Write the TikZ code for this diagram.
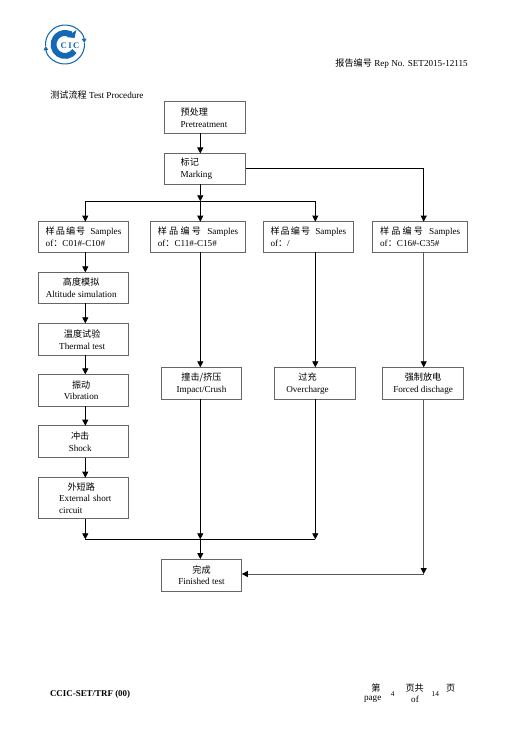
\documentclass[tikz,border=0pt]{standalone}
\usepackage{fontspec}
\setmainfont{Liberation Serif}
\newfontfamily\cjk{Noto Sans CJK SC}
\newcommand{\zh}[1]{{\cjk #1}}
\newcommand{\samplehead}[1]{\zh{样}\hfill\zh{品}\hfill\zh{编}\hfill\zh{号}\hfill\hspace{3pt}Samples\\of\zh{：}#1}
\newcommand{\stagetext}[3][0pt]{\zh{#2}\hspace*{#1}\\#3\hspace*{#1}}
\usetikzlibrary{positioning, arrows.meta, calc}
\definecolor{logoblue}{RGB}{20,105,180}

\begin{document}
\begin{tikzpicture}[
    x=0.75pt,
    y=-0.75pt,
    >={Triangle[length=4.5pt,width=4.5pt]},
    font=\fontsize{6.85}{8.8}\selectfont,
    line/.style={
        line width=0.6pt
    },
    arrow/.style={
        ->,
        line width=0.6pt
    },
    fararrow/.style={
        arrow,
        draw=black!65,
        fill=black!65,
        -{Triangle[length=4.5pt,width=4.5pt,black]}
    },
    stage/.style={
        rectangle,
        draw=black!60,
        line width=0.55pt,
        outer sep=0pt,
        inner xsep=0pt,
        inner ysep=0pt,
        minimum width=60.5pt,
        minimum height=24pt,
        align=center
    },
    start/.style={
        stage,
        inner xsep=12pt,
        text width=36.5pt,
        align=left
    },
    sample/.style={
        stage,
        inner xsep=5.6pt,
        minimum height=23pt,
        align=left
    },
    column/.style={
        stage,
        minimum width=68pt
    },
    plain/.style={
        inner sep=0pt,
        outer sep=0pt
    }
]
    \useasboundingbox (0,0) rectangle (529,748);

    % Logo
    \coordinate (logoc) at (65,44.5);
    \draw[logoblue, line width=0.8pt, ->, >={Triangle[length=3pt,width=3.5pt]}] ([shift={(-185:19.5)}]logoc) arc[start angle=-185, end angle=-5, radius=19.5];
    \draw[logoblue, line width=0.8pt, ->, >={Triangle[length=3pt,width=3.5pt]}] ([shift={(-5:19.5)}]logoc) arc[start angle=-5, end angle=175, radius=19.5];
    \draw[logoblue, line width=4.4pt, ->, >={Triangle[length=4pt,width=9pt]}] ([shift={(-325:11.5)}]logoc) arc[start angle=-325, end angle=-35, radius=11.5];
    \node[plain, text=logoblue, font=\fontsize{6.5}{6}\selectfont\bfseries] (logotext) at (70,45.7) {C\hspace{1pt}I\hspace{1pt}C};

    % Page heads
    \node[plain, anchor=west] (title) at (50.3,95) {\zh{测试流程} Test Procedure};
    \node[plain, anchor=east] (report) at (467.8,63.7) {\zh{报告编号} Rep No. SET2015-12115};

    % Top boxes
    \node[start, minimum width=60.75pt] (pre) at (205,117.5) {\zh{预处理}\\Pretreatment};
    \node[start, minimum width=60.75pt, minimum height=23.25pt, below=15pt of pre] (mark) {\zh{标记}\\Marking};

    % Sample row
    \node[sample, text width=56.7pt, minimum width=67.9pt] (sampleA) at (83.5,237) {\samplehead{C01\#-C10\#}};
    \node[sample, text width=60.3pt, minimum width=71.5pt, right=16.2pt of sampleA] (sampleB) {\samplehead{C11\#-C15\#}};
    \node[sample, text width=56.8pt, minimum width=68pt, right=13pt of sampleB] (sampleC) {\samplehead{/}};
    \node[sample, text width=60pt, minimum width=71.2pt, right=14.25pt of sampleC] (sampleD) {\samplehead{C16\#-C35\#}};

    % Left column
    \node[column, minimum height=23.25pt, below=15pt of sampleA] (altitude) {\stagetext[3.5pt]{高度模拟}{Altitude simulation}};
    \node[column, below=15pt of altitude] (thermal) {\stagetext[2pt]{温度试验}{Thermal test}};
    \node[column, below=14.25pt of thermal] (vibration) {\stagetext[3.5pt]{振动}{Vibration}};
    \node[column, below=14.5pt of vibration] (shock) {\stagetext[5pt]{冲击}{Shock}};
    \node[column, minimum height=30.75pt, text width=67.9pt, align=left, below=15pt of shock] (external) {\hspace*{22pt}\zh{外短路}\\\hspace*{15.7pt}External short\\\hspace*{15.7pt}circuit};

    % Tests in the other columns
    \node[stage] (impact) at (201.5,383.3) {\zh{撞击/挤压}\\Impact/Crush};
    \node[stage, right=24.5pt of impact] (overcharge) {\stagetext[11pt]{过充}{Overcharge}};
    \node[stage, right=20.7pt of overcharge] (forced) {\zh{强制放电}\\Forced dischage};
    \node[stage, below=119.8pt of impact] (done) {\zh{完成}\\Finished test};

    % Lines
    \coordinate (busleft) at (85.3,201.3);
    \coordinate (busmid) at (200.3,201.3);
    \coordinate (busright) at (315.3,201.3);
    \coordinate (lowleft) at (85.3,539.3);
    \coordinate (lowmid) at (200.3,539.3);
    \coordinate (lowright) at (315.3,539.3);
    \coordinate (farline) at (423.7,574);

    \draw[arrow] (busmid |- pre.south) -- (busmid |- mark.north);
    \draw[arrow] (busmid |- mark.south) -- (busmid);
    \draw[line] (busleft) -- (busright);
    \draw[arrow] (busleft) -- (busleft |- sampleA.north);
    \draw[arrow] (busmid) -- (busmid |- sampleB.north);
    \draw[arrow] (busright) -- (busright |- sampleC.north);
    \draw[arrow] (mark.east |- 0,168.3) -| (farline |- sampleD.north);

    % Left column arrows
    \draw[arrow] (busleft |- sampleA.south) -- (busleft |- altitude.north);
    \draw[arrow] (busleft |- altitude.south) -- (busleft |- thermal.north);
    \draw[arrow] (busleft |- thermal.south) -- (busleft |- vibration.north);
    \draw[arrow] (busleft |- vibration.south) -- (busleft |- shock.north);
    \draw[arrow] (busleft |- shock.south) -- (busleft |- external.north);
    \draw[arrow] (busleft |- external.south) -- (lowleft);

    % Other columns
    \draw[arrow] (busmid |- sampleB.south) -- (busmid |- impact.north);
    \draw[arrow] (busright |- sampleC.south) -- (busright |- overcharge.north);
    \draw[fararrow] (farline |- sampleD.south) -- (farline |- forced.north);
    \draw[arrow] (busmid |- impact.south) -- (lowmid);
    \draw[arrow] (busright |- overcharge.south) -- (lowright);
    \draw[line] (lowleft) -- (lowright);
    \draw[arrow] (lowmid) -- (lowmid |- done.north);
    \draw[fararrow] (farline |- forced.south) -- (farline);
    \draw[fararrow] (farline) -- (done.east |- farline);

    % Footer
    \node[plain, anchor=west, font=\fontsize{6.7}{8}\selectfont\bfseries] (form) at (50,694) {CCIC-SET/TRF (00)};
    \node[plain] (pagezh) at (376,688) {\zh{第}};
    \node[plain] (pageen) at (372.7,699.3) {page};
    \node[plain, font=\fontsize{5.5}{6}\selectfont] (pagenum) at (392.7,694) {4};
    \node[plain] (ofzh) at (414.7,688) {\zh{页共}};
    \node[plain] (ofen) at (415,699.3) {of};
    \node[plain, font=\fontsize{5.5}{6}\selectfont] (total) at (435.3,694) {14};
    \node[plain] (lastzh) at (450.7,688) {\zh{页}};

\end{tikzpicture}
\end{document}
